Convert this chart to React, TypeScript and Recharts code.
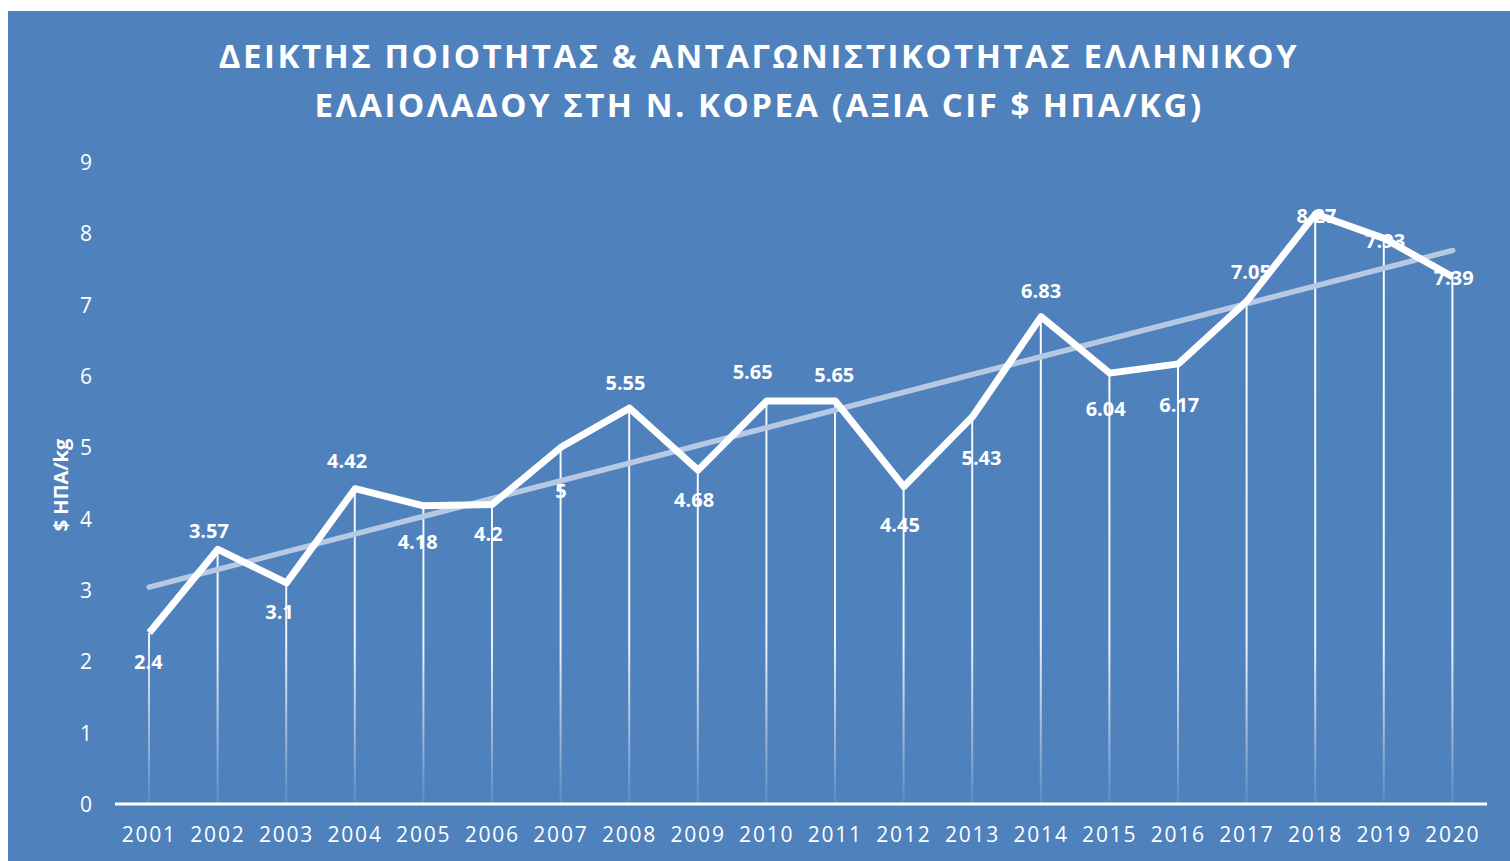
import React from 'react';
import { ComposedChart, Line, Bar, XAxis, YAxis, LabelList } from 'recharts';

const years = [
    '2001', '2002', '2003', '2004', '2005', '2006', '2007', '2008', '2009', '2010',
    '2011', '2012', '2013', '2014', '2015', '2016', '2017', '2018', '2019', '2020',
];
const cifValues = [
    2.4, 3.57, 3.1, 4.42, 4.18, 4.2, 5, 5.55, 4.68, 5.65,
    5.65, 4.45, 5.43, 6.83, 6.04, 6.17, 7.05, 8.27, 7.93, 7.39,
];
// linear trendline, only its two ends
const trendValues: (number | null)[] = [
    3.04, null, null, null, null, null, null, null, null, null,
    null, null, null, null, null, null, null, null, null, 7.76,
];
const yTicks = [0, 1, 2, 3, 4, 5, 6, 7, 8, 9];

// nudges for the data labels, in px (Excel placed them by hand-ish)
const labelDx = [-1, -9, -7, -8, -6, -4, 0, -4, -4, -14, -1, -4, 9, 0, -4, 1, 4, 1, 1, 1];
const labelDy = [29, -19, 29, -28, 36, 29, 43, -26, 29, -29, -26, 38, 41, -26, 35, 41, -30, 1, 2, 1];

const data = years.map((year, i) => ({
    year,
    value: cifValues[i],
    trend: trendValues[i],
}));

const BG = '#4F81BD';
const FONT = '"Open Sans", "Noto Sans", sans-serif';

const YTick = (props: any) => (
    <text x={84} y={props.y} textAnchor="end" dominantBaseline="central"
        fill="#fff" fontSize={21} fontFamily={FONT}>
        {props.payload.value}
    </text>
);

const XTick = (props: any) => (
    <text x={props.x} y={831} textAnchor="middle" fill="#fff" fontSize={21}
        fontFamily={FONT} letterSpacing={1.8}>
        {props.payload.value}
    </text>
);

const PointLabel = (props: any) => {
    const { x, y, value, index } = props;
    if (x == null || y == null) return null;
    return (
        <text x={x + labelDx[index]} y={y + labelDy[index]} textAnchor="middle"
            dominantBaseline="central" fill="#fff" fontSize={20} fontWeight="bold"
            fontFamily={FONT}>
            {value}
        </text>
    );
};

export default function App() {
    return (
        <div style={{
            position: 'fixed', left: 8, top: 11, width: 1502, height: 850,
            background: BG, fontFamily: FONT,
        }}>
            <div style={{
                position: 'absolute', top: 20, left: 0, width: 1502, textAlign: 'center',
                color: '#fff', fontWeight: 'bold', fontSize: 33, lineHeight: '49px',
                letterSpacing: 2.5,
            }}>
                ΔΕΙΚΤΗΣ ΠΟΙΟΤΗΤΑΣ &amp; ΑΝΤΑΓΩΝΙΣΤΙΚΟΤΗΤΑΣ ΕΛΛΗΝΙΚΟΥ<br />
                ΕΛΑΙΟΛΑΔΟΥ ΣΤΗ Ν. ΚΟΡΕΑ (ΑΞΙΑ CIF $ ΗΠΑ/KG)
            </div>
            <div style={{
                position: 'absolute', left: 52, top: 474, color: '#fff', fontWeight: 'bold',
                fontSize: 20, whiteSpace: 'nowrap',
                transform: 'translate(-50%, -50%) rotate(-90deg)',
            }}>
                $ ΗΠΑ/kg
            </div>
            <ComposedChart width={1502} height={850} data={data}
                margin={{ top: 151, right: 23, bottom: 27, left: 0 }}>
                <defs>
                    <linearGradient id="dropFade" gradientUnits="userSpaceOnUse"
                        x1="0" y1="151" x2="0" y2="793">
                        <stop offset="0" stopColor="#fff" stopOpacity={1} />
                        <stop offset="0.75" stopColor="#fff" stopOpacity={0.9} />
                        <stop offset="1" stopColor="#fff" stopOpacity={0.08} />
                    </linearGradient>
                </defs>
                <XAxis dataKey="year" height={30} tickLine={false} tickSize={0}
                    axisLine={{ stroke: '#fff', strokeWidth: 3 }} tick={<XTick />}
                    interval={0} />
                <YAxis width={107} domain={[0, 9]} ticks={yTicks} axisLine={false}
                    tickLine={false} tickSize={0} tick={<YTick />} />
                <Bar dataKey="value" barSize={2} fill="url(#dropFade)" isAnimationActive={false} />
                <Line dataKey="trend" connectNulls dot={false} stroke="#B5C9E4" strokeWidth={5.5}
                    strokeLinecap="round" isAnimationActive={false} />
                <Line dataKey="value" type="linear" dot={false} stroke="#fff" strokeWidth={7}
                    strokeLinejoin="round" isAnimationActive={false}>
                    <LabelList dataKey="value" content={<PointLabel />} />
                </Line>
            </ComposedChart>
        </div>
    );
}
